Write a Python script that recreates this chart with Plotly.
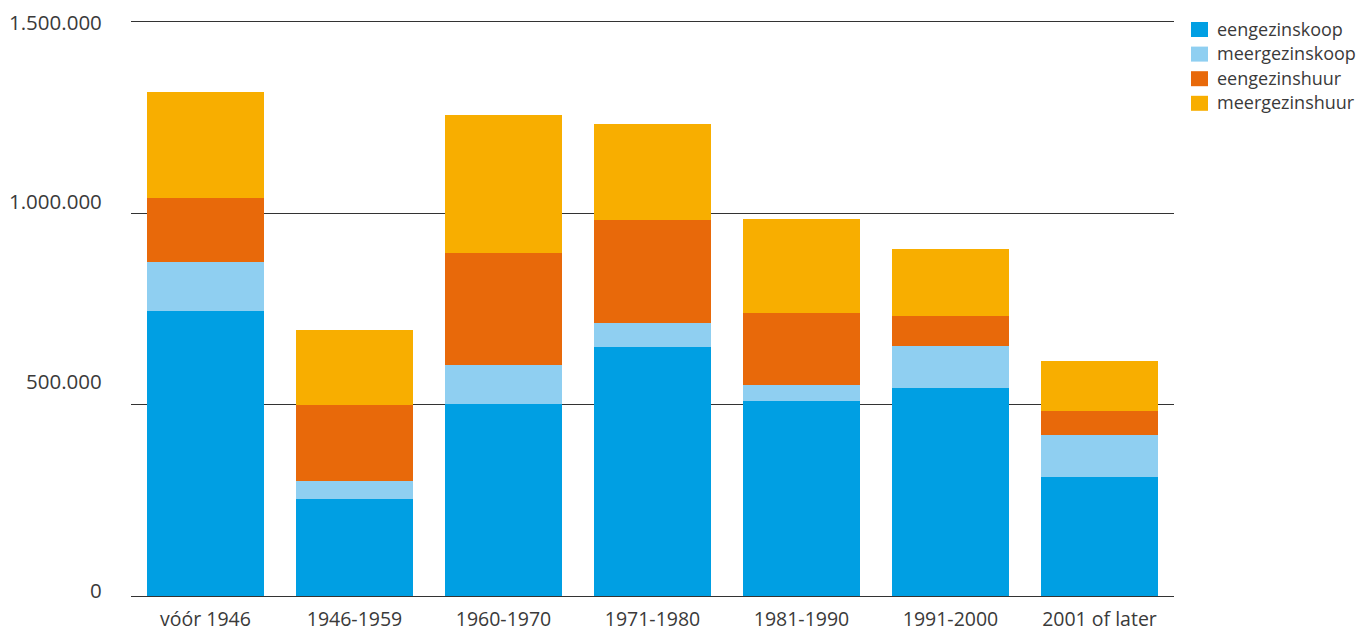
import plotly.graph_objects as go

periods = ["vóór 1946", "1946-1959", "1960-1970", "1971-1980", "1981-1990", "1991-2000", "2001 of later"]

eengezinskoop = [745000, 253000, 502000, 651000, 509000, 544000, 312000]
meergezinskoop = [128000, 47000, 101000, 63000, 41000, 109000, 108000]
eengezinshuur = [166000, 200000, 294000, 267000, 188000, 78000, 63000]
meergezinshuur = [276000, 194000, 360000, 252000, 246000, 174000, 131000]

tick_values = [0, 500000, 1000000, 1500000]
tick_labels = ["0", "500.000", "1.000.000", "1.500.000"]
# vertical offsets of the value labels relative to their gridline (px)
tick_label_shift = [6, 24, 12, 0]

series = [
    ("eengezinskoop", eengezinskoop, "#009FE3"),
    ("meergezinskoop", meergezinskoop, "#8FCFF1"),
    ("eengezinshuur", eengezinshuur, "#E8690A"),
    ("meergezinshuur", meergezinshuur, "#F8AE00"),
]

font_family = "Open Sans, Noto Sans, sans-serif"
text_color = "#3a3a3a"

W, H = 1372, 635
M_L, M_R, M_T, M_B = 131, 198, 14, 39
plot_w = W - M_L - M_R
plot_h = H - M_T - M_B


def px_to_paper_x(px):
    return (px - M_L) / plot_w


def px_to_paper_y(py):
    return (H - M_B - py) / plot_h


fig = go.Figure()
for name, values, color in series:
    fig.add_trace(go.Bar(
        name=name, x=periods, y=values,
        marker=dict(color=color, line=dict(width=0)),
        showlegend=False,
    ))

# value labels on the left
for v, lab, dy in zip(tick_values, tick_labels, tick_label_shift):
    fig.add_annotation(
        x=0, xref="paper", xanchor="right", xshift=-27,
        y=v, yref="y", yanchor="middle", yshift=dy,
        text=lab, showarrow=False,
        font=dict(family=font_family, size=20.5, color=text_color),
    )

# legend: coloured squares with labels at the top right
for i, (name, _, color) in enumerate(series):
    cy = 29.5 + 24.6 * i
    fig.add_shape(
        type="rect", xref="paper", yref="paper",
        x0=px_to_paper_x(1191), x1=px_to_paper_x(1208),
        y0=px_to_paper_y(cy + 7.5), y1=px_to_paper_y(cy - 7.5),
        fillcolor=color, line=dict(width=0),
    )
    fig.add_annotation(
        x=px_to_paper_x(1216), xref="paper", xanchor="left",
        y=px_to_paper_y(cy - 1), yref="paper", yanchor="middle",
        text=name, showarrow=False, borderpad=0,
        font=dict(family=font_family, size=18, color=text_color),
    )

fig.update_layout(
    barmode="stack",
    bargap=0.22,
    width=W, height=H,
    margin=dict(l=M_L, r=M_R, t=M_T, b=M_B),
    paper_bgcolor="white",
    plot_bgcolor="white",
    font=dict(family=font_family, color=text_color),
    showlegend=False,
    xaxis=dict(
        showgrid=False, showline=False, ticks="",
        tickfont=dict(size=19.5, color=text_color),
        ticklabelstandoff=9,
        automargin=False,
    ),
    yaxis=dict(
        range=[0, 1520000],
        tickvals=tick_values,
        showticklabels=False,
        showgrid=True, gridcolor="#333333", gridwidth=1,
        zeroline=True, zerolinecolor="#333333", zerolinewidth=1,
        showline=False, ticks="",
        layer="below traces",
        automargin=False,
    ),
)

fig.write_html("out.html")
